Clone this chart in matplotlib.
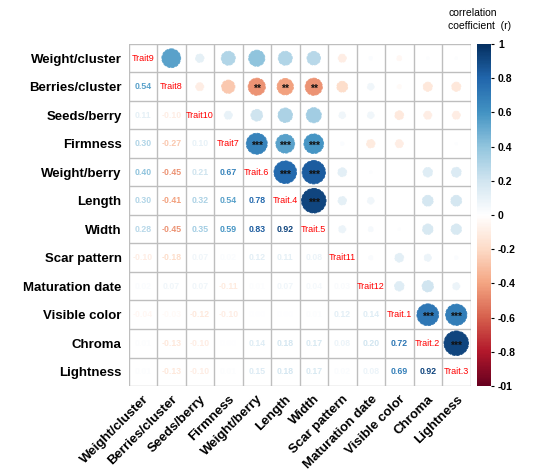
import numpy as np
import matplotlib.pyplot as plt
from matplotlib.colors import LinearSegmentedColormap, Normalize
from matplotlib.cm import ScalarMappable
from matplotlib.patches import Circle

plt.rcParams['font.family'] = ['Liberation Sans', 'DejaVu Sans']

traits = ['Weight/cluster', 'Berries/cluster', 'Seeds/berry', 'Firmness',
          'Weight/berry', 'Length', 'Width', 'Scar pattern', 'Maturation date',
          'Visible color', 'Chroma', 'Lightness']
diag_labels = ['Trait9', 'Trait8', 'Trait10', 'Trait7', 'Trait.6', 'Trait.4',
               'Trait.5', 'Trait11', 'Trait12', 'Trait.1', 'Trait.2', 'Trait.3']

# lower triangle, row by row
lower = [
    [],
    [0.54],
    [0.11, -0.10],
    [0.30, -0.27, 0.10],
    [0.40, -0.45, 0.21, 0.67],
    [0.30, -0.41, 0.32, 0.54, 0.78],
    [0.28, -0.45, 0.35, 0.59, 0.83, 0.92],
    [-0.10, -0.18, 0.07, 0.02, 0.12, 0.11, 0.08],
    [0.02, 0.07, 0.07, -0.11, 0.01, 0.07, 0.04, 0.03],
    [-0.04, -0.03, -0.12, -0.10, 0.00, 0.00, 0.01, 0.12, 0.14],
    [0.01, -0.13, -0.10, 0.00, 0.14, 0.18, 0.17, 0.08, 0.20, 0.72],
    [0.01, -0.13, -0.10, 0.01, 0.15, 0.18, 0.17, 0.02, 0.08, 0.69, 0.92],
]
# significance marks in upper triangle (row, col)
stars = {(1, 4): '**', (1, 5): '**', (1, 6): '**',
         (3, 4): '***', (3, 5): '***', (3, 6): '***',
         (4, 5): '***', (4, 6): '***', (5, 6): '***',
         (9, 10): '***', (9, 11): '***', (10, 11): '***'}

n = len(traits)
r = np.eye(n)
for i, row in enumerate(lower):
    for j, v in enumerate(row):
        r[i, j] = v
        r[j, i] = v

cmap = LinearSegmentedColormap.from_list('corr', [
    '#67001F', '#B2182B', '#D6604D', '#F4A582', '#FDDBC7', '#FFFFFF',
    '#D1E5F0', '#92C5DE', '#4393C3', '#2166AC', '#053061'])
norm = Normalize(-1, 1)

fig = plt.figure(figsize=(5.36, 4.72), dpi=100)
ax = fig.add_axes([0.2388, 0.1822, 0.640, 0.7246])
ax.set_xlim(-0.5, n - 0.5)
ax.set_ylim(n - 0.5, -0.5)
ax.set_aspect('equal')

for k in range(n + 1):
    ax.axhline(k - 0.5, color='#BEBEBE', lw=1, zorder=1)
    ax.axvline(k - 0.5, color='#BEBEBE', lw=1, zorder=1)

for i in range(n):
    for j in range(n):
        v = r[i, j]
        c = cmap(norm(v))
        if i == j:
            ax.text(j, i, diag_labels[i], ha='center', va='center',
                    color='red', fontsize=6.5)
        elif i > j:
            ax.text(j, i, '%.2f' % v, ha='center', va='center',
                    color=c, fontsize=6.3, fontweight='bold')
        else:
            rad = 0.45 * np.sqrt(abs(v))
            if rad > 0:
                ax.add_patch(Circle((j, i), rad, facecolor=c, edgecolor=c,
                                    lw=0.6, ls='--', zorder=2))
            if (i, j) in stars:
                ax.text(j, i + 0.08, stars[(i, j)], ha='center', va='center',
                        color='#111111', fontsize=7.5, fontweight='bold', zorder=3)

ax.set_xticks(range(n))
ax.set_yticks(range(n))
ax.set_xticklabels(traits, rotation=45, ha='right', va='top',
                   rotation_mode='anchor', fontsize=9.5, fontweight='bold')
ax.set_yticklabels(traits, fontsize=9.5, fontweight='bold')
ax.tick_params(length=0, pad=5)
for s in ax.spines.values():
    s.set_visible(False)

cax = fig.add_axes([0.890, 0.1822, 0.026, 0.7246])
cb = fig.colorbar(ScalarMappable(norm=norm, cmap=cmap), cax=cax)
ticks = np.round(np.arange(-1, 1.01, 0.2), 1)
cb.set_ticks(ticks)
cb.set_ticklabels(['-01', '-0.8', '-0.6', '-0.4', '-0.2', '0',
                   '0.2', '0.4', '0.6', '0.8', '1'])
cb.outline.set_visible(False)
cax.tick_params(length=2, width=0.8, labelsize=7.5, pad=3)
for t in cax.get_yticklabels():
    t.set_fontweight('bold')

fig.text(0.836, 0.935, 'correlation\ncoefficient  (r)', ha='left', va='bottom',
         fontsize=7.5, linespacing=1.3)

fig.savefig('out.png', dpi=100)
